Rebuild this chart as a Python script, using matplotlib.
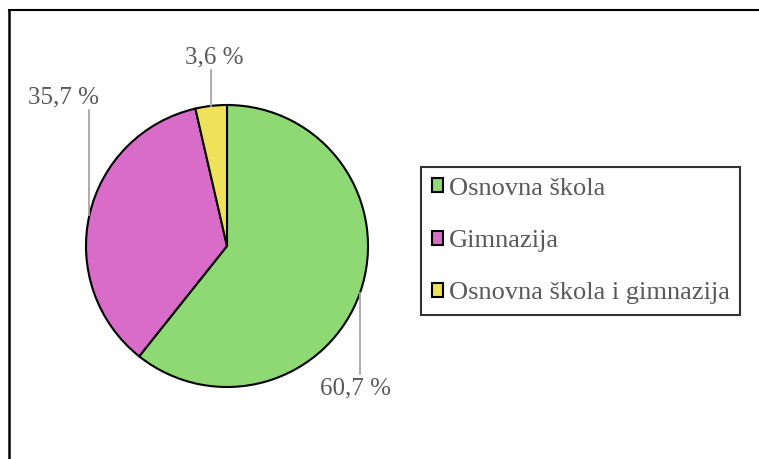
import numpy as np
import matplotlib.pyplot as plt
from matplotlib.lines import Line2D

categories = ["Osnovna škola", "Gimnazija", "Osnovna škola i gimnazija"]
values = [60.7, 35.7, 3.6]
labels = ["60,7 %", "35,7 %", "3,6 %"]
colors = ["#8ED973", "#D86CC8", "#F0E15A"]

W, H = 759, 459
plt.rcParams['font.family'] = ['Liberation Serif', 'DejaVu Serif']

fig = plt.figure(figsize=(W / 100, H / 100), dpi=100)
ax = fig.add_axes([0, 0, 1, 1])

# pie in pixel coordinates (y up)
cx, cy, r = 227, H - 246, 141
wedges, _ = ax.pie(values, colors=colors, startangle=90, counterclock=False,
                   center=(cx, cy), radius=r, frame=True,
                   wedgeprops=dict(edgecolor="black", linewidth=1.5))
ax.set_xlim(0, W)
ax.set_ylim(0, H)
ax.axis("off")

# labels with vertical grey leader lines, (text x, text y) in pixels from top
label_pos = [(356, 388), (64, 97), (214, 57)]
for w, lab, (tx, ty) in zip(wedges, labels, label_pos):
    ang = np.deg2rad((w.theta1 + w.theta2) / 2)
    ex = cx + r * np.cos(ang)
    ey = cy + r * np.sin(ang)
    ty = H - ty
    end = ty - 13 if ey < ty else ty + 14
    ax.plot([ex, ex], [ey, end], color="#A6A6A6", linewidth=1.3)
    ax.text(tx, ty, lab, ha="center", va="center", fontsize=18, color="#595959")

leg = ax.legend(wedges, categories, loc="center left",
                bbox_to_anchor=(421 / W, 1 - 241 / H), bbox_transform=fig.transFigure,
                frameon=True, fancybox=False, fontsize=19, labelcolor="#595959",
                handlelength=0.45, handleheight=0.45, handletextpad=0.2,
                labelspacing=1.15, borderpad=0.4, borderaxespad=0)
leg.get_frame().set_edgecolor("black")
leg.get_frame().set_linewidth(1.5)

# outer frame (top and left edges visible)
fig.add_artist(Line2D([9 / W, 1], [1 - 10 / H, 1 - 10 / H], color="black", linewidth=1.5,
                      transform=fig.transFigure))
fig.add_artist(Line2D([9 / W, 9 / W], [1 - 10 / H, 0], color="black", linewidth=1.8,
                      transform=fig.transFigure))

fig.savefig("out.png", dpi=100)
